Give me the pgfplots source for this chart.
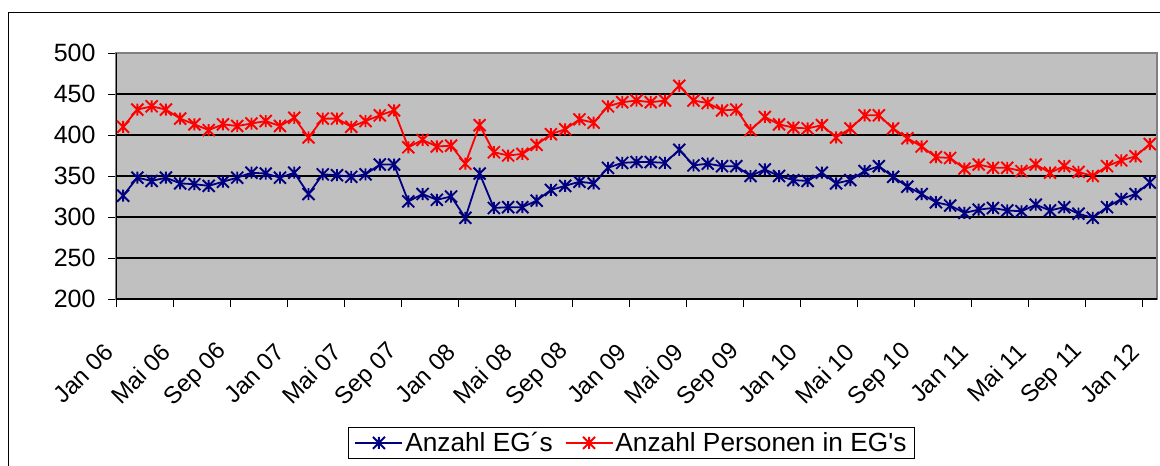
\documentclass[border=0pt]{standalone}
\usepackage{pgfplots}
\pgfplotsset{compat=1.18}
\usepackage{fontspec}
\setmainfont{Liberation Sans}[Ligatures=TeXOff]
\definecolor{egblue}{RGB}{0,0,128}
\definecolor{egred}{RGB}{255,0,0}
\definecolor{plotbg}{RGB}{192,192,192}
\definecolor{frame}{RGB}{128,128,128}
\pgfdeclareplotmark{xlstar}{%
  \pgfpathmoveto{\pgfqpoint{-\pgfplotmarksize}{-\pgfplotmarksize}}%
  \pgfpathlineto{\pgfqpoint{\pgfplotmarksize}{\pgfplotmarksize}}%
  \pgfpathmoveto{\pgfqpoint{-\pgfplotmarksize}{\pgfplotmarksize}}%
  \pgfpathlineto{\pgfqpoint{\pgfplotmarksize}{-\pgfplotmarksize}}%
  \pgfpathmoveto{\pgfqpoint{0pt}{-\pgfplotmarksize}}%
  \pgfpathlineto{\pgfqpoint{0pt}{\pgfplotmarksize}}%
  \pgfusepathqstroke}
\pgfplotstableread{
i v
0 326
1 348
2 344
3 348
4 341
5 340
6 338
7 343
8 348
9 354
10 353
11 348
12 354
13 328
14 352
15 351
16 349
17 352
18 364
19 364
20 319
21 328
22 321
23 325
24 299
25 353
26 311
27 312
28 312
29 320
30 333
31 338
32 343
33 341
34 360
35 366
36 367
37 367
38 366
39 382
40 363
41 365
42 362
43 362
44 350
45 358
46 350
47 345
48 344
49 354
50 341
51 345
52 356
53 362
54 349
55 337
56 328
57 318
58 314
59 305
60 309
61 311
62 308
63 307
64 315
65 308
66 312
67 304
68 299
69 312
70 322
71 328
72 342
}\blueTable
\pgfplotstableread{
i v
0 410
1 431
2 435
3 431
4 420
5 413
6 406
7 413
8 411
9 414
10 417
11 411
12 421
13 397
14 420
15 420
16 410
17 417
18 424
19 430
20 385
21 394
22 386
23 387
24 365
25 412
26 379
27 375
28 377
29 388
30 401
31 407
32 419
33 415
34 435
35 440
36 442
37 440
38 442
39 460
40 442
41 439
42 430
43 431
44 406
45 422
46 413
47 409
48 408
49 412
50 397
51 408
52 424
53 424
54 408
55 396
56 386
57 373
58 372
59 359
60 364
61 360
62 360
63 356
64 364
65 354
66 362
67 355
68 350
69 362
70 369
71 374
72 389
}\redTable
\begin{document}
\begin{tikzpicture}[x=1bp,y=1bp]
\draw[line width=1bp,black] (8,-470) -- (8,-12) -- (1165,-12);
\begin{axis}[
  at={(116bp,-299bp)}, anchor=south west,
  scale only axis, width=1041bp, height=246bp,
  xmin=-0.5, xmax=72.5, ymin=200, ymax=500,
  axis background/.style={fill=plotbg},
  axis line style={draw=frame, line width=1.6bp},
  xtick={-0.5,3.5,...,71.5},
  xticklabels={Jan 06,Mai 06,Sep 06,Jan 07,Mai 07,Sep 07,Jan 08,Mai 08,Sep 08,Jan 09,Mai 09,Sep 09,Jan 10,Mai 10,Sep 10,Jan 11,Mai 11,Sep 11,Jan 12},
  ytick={200,250,...,500},
  ymajorgrids, major grid style={black, line width=1.1bp},
  tick align=outside, major tick length=8bp,
  tick style={black, line width=1bp},
  xtick pos=bottom, ytick pos=left,
  /pgf/number format/assume math mode=true,
  ticklabel style={font=\fontsize{25bp}{30bp}\selectfont},
  yticklabel style={xshift=-9bp},
  xticklabel style={font=\fontsize{24bp}{28bp}\selectfont, anchor=east, xshift=-7bp, yshift=-41bp, rotate=45, inner sep=0pt},
  legend columns=2,
  legend style={at={(0.2229,-0.5203)}, anchor=north west, draw=black, line width=1bp,
    font=\fontsize{26.25bp}{30bp}\selectfont, inner xsep=6bp, inner ysep=3bp,
    nodes={inner sep=2bp},
    /tikz/every even column/.append style={column sep=10bp}},
  legend cell align=left,
  legend image code/.code={\draw[mark repeat=2,mark phase=2] plot coordinates {(0bp,0bp) (23.5bp,0bp) (47bp,0bp)};},
]
\addplot[egblue, line width=1.8bp, mark=xlstar, mark size=6bp, mark options={line width=1.9bp}] table[x=i,y=v] {\blueTable};
\addlegendentry{Anzahl EG´s}
\addplot[egred, line width=1.8bp, mark=xlstar, mark size=6bp, mark options={line width=1.9bp}] table[x=i,y=v] {\redTable};
\addlegendentry{Anzahl Personen in EG's}
\draw[black, line width=1.2bp] (rel axis cs:0,0) -- (rel axis cs:0,1);
\draw[black, line width=1.2bp] (rel axis cs:0,0) -- (rel axis cs:1,0);
\end{axis}
\pgfresetboundingbox
\useasboundingbox (0bp,0bp) rectangle (1160bp,-466bp);
\end{tikzpicture}
\end{document}
